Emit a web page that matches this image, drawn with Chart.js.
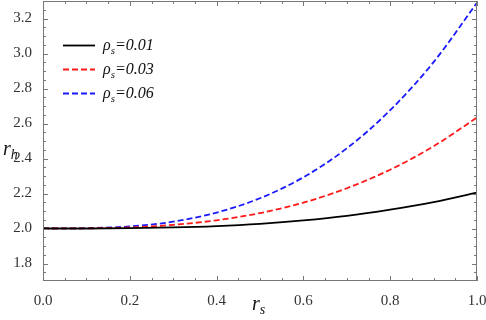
<!DOCTYPE html>
<html>
<head>
<meta charset="utf-8">
<script src="https://cdn.jsdelivr.net/npm/chart.js@4"></script>
<style>
  html, body { margin: 0; padding: 0; background: #fff; }
  #wrap { width: 486px; height: 320px; }
</style>
</head>
<body>
<div id="wrap"><canvas id="chart"></canvas></div>
<script>
// r_s sample points and r_h values
const rs = [0.0, 0.1, 0.2, 0.3, 0.4, 0.5, 0.6, 0.7, 0.8, 0.9, 1.0];
const rh001 = [2.000, 2.000, 2.002, 2.006, 2.014, 2.027, 2.046, 2.072, 2.108, 2.151, 2.205];
const rh003 = [2.000, 2.001, 2.006, 2.021, 2.047, 2.088, 2.148, 2.230, 2.336, 2.470, 2.634];
const rh006 = [2.000, 2.002, 2.012, 2.039, 2.091, 2.173, 2.293, 2.458, 2.676, 2.951, 3.290];
const seriesNames = ['0.01', '0.03', '0.06'];
const xTicks = [0.0, 0.2, 0.4, 0.6, 0.8, 1.0];
const yTicks = [1.8, 2.0, 2.2, 2.4, 2.6, 2.8, 3.0, 3.2];

const SERIF = "'Liberation Serif', serif";

const toPts = (ys) => rs.map((x, i) => ({ x: x, y: ys[i] }));

const styles = [
  { color: '#000000', dash: [] },
  { color: '#ff1a1a', dash: [6, 3] },
  { color: '#1a1aff', dash: [6, 3] }
];

// frame with inward ticks on all four sides, legend and axis titles
const framePlugin = {
  id: 'frame',
  afterDraw(chart) {
    const { ctx, chartArea: a, scales } = chart;
    const xs = scales.x, ys = scales.y;
    ctx.save();
    ctx.strokeStyle = '#777';
    ctx.lineWidth = 1;
    ctx.strokeRect(a.left + 0.5, a.top + 0.5, a.right - a.left - 1, a.bottom - a.top - 1);

    const tick = (x1, y1, x2, y2) => {
      ctx.beginPath(); ctx.moveTo(x1, y1); ctx.lineTo(x2, y2); ctx.stroke();
    };
    // x ticks
    for (let v = 0; v <= 1.0001; v += 0.05) {
      const major = Math.abs(v * 5 - Math.round(v * 5)) < 1e-6;
      const px = Math.round(xs.getPixelForValue(v)) + 0.5;
      const len = major ? 5 : 3;
      tick(px, a.bottom, px, a.bottom - len);
      tick(px, a.top, px, a.top + len);
    }
    // y ticks
    for (let v = 1.75; v <= 3.30001; v += 0.05) {
      const major = Math.abs(v * 5 - Math.round(v * 5)) < 1e-6;
      const py = Math.round(ys.getPixelForValue(v)) + 0.5;
      const len = major ? 5 : 3;
      tick(a.left, py, a.left + len, py);
      tick(a.right, py, a.right - len, py);
    }

    // italic symbol with subscript
    const symbol = (main, sub, x, y, size, extra) => {
      ctx.fillStyle = '#111';
      ctx.textBaseline = 'alphabetic';
      ctx.textAlign = 'left';
      ctx.font = 'italic ' + size + 'px ' + SERIF;
      ctx.fillText(main, x, y);
      let w = ctx.measureText(main).width;
      ctx.font = 'italic ' + Math.round(size * 0.7) + 'px ' + SERIF;
      ctx.fillText(sub, x + w, y + size * 0.22);
      w += ctx.measureText(sub).width;
      if (extra) {
        ctx.font = 'italic ' + size + 'px ' + SERIF;
        ctx.fillText(extra, x + w, y);
      }
    };
    symbol('r', 'h', 3, 155, 20);
    symbol('r', 's', 252, 310, 20);

    // legend
    const rowsY = [45, 69, 93];
    chart.data.datasets.forEach((ds, i) => {
      const y = rowsY[i] + 0.5;
      ctx.strokeStyle = ds.borderColor;
      ctx.lineWidth = 1.8;
      ctx.setLineDash(ds.borderDash || []);
      tick(63, y, 95, y);
      ctx.setLineDash([]);
      symbol('\u03c1', 's', 103, rowsY[i] + 5, 16, '=' + seriesNames[i]);
    });
    ctx.restore();
  }
};

new Chart(document.getElementById('chart'), {
  type: 'line',
  data: {
    datasets: [rh001, rh003, rh006].map((ys, i) => ({
      label: 'rho_s=' + seriesNames[i],
      data: toPts(ys),
      borderColor: styles[i].color,
      borderDash: styles[i].dash,
      borderWidth: 1.8,
      pointRadius: 0,
      cubicInterpolationMode: 'monotone',
      fill: false
    }))
  },
  options: {
    responsive: true,
    maintainAspectRatio: false,
    animation: false,
    layout: { padding: { top: 1, right: 9, left: 0, bottom: 0 } },
    plugins: { legend: { display: false }, tooltip: { enabled: false } },
    scales: {
      x: {
        type: 'linear',
        min: 0, max: 1,
        grid: { display: false },
        border: { display: false },
        afterBuildTicks: (s) => { s.ticks = xTicks.map(v => ({ value: v })); },
        afterFit: (s) => { s.height = 39; s.paddingLeft = 0; s.paddingRight = 0; },
        ticks: {
          padding: 3,
          color: '#333',
          maxRotation: 0,
          font: { family: SERIF, size: 15, weight: 'normal' },
          callback: (v) => Number(v).toFixed(1)
        }
      },
      y: {
        min: 1.7, max: 3.3,
        grid: { display: false },
        border: { display: false },
        afterBuildTicks: (s) => { s.ticks = yTicks.map(v => ({ value: v })); },
        afterFit: (s) => { s.width = 43; s.paddingTop = 0; s.paddingBottom = 0; },
        ticks: {
          padding: 3,
          color: '#333',
          font: { family: SERIF, size: 15, weight: 'normal' },
          callback: (v) => Number(v).toFixed(1)
        }
      }
    }
  },
  plugins: [framePlugin]
});
</script>
</body>
</html>
